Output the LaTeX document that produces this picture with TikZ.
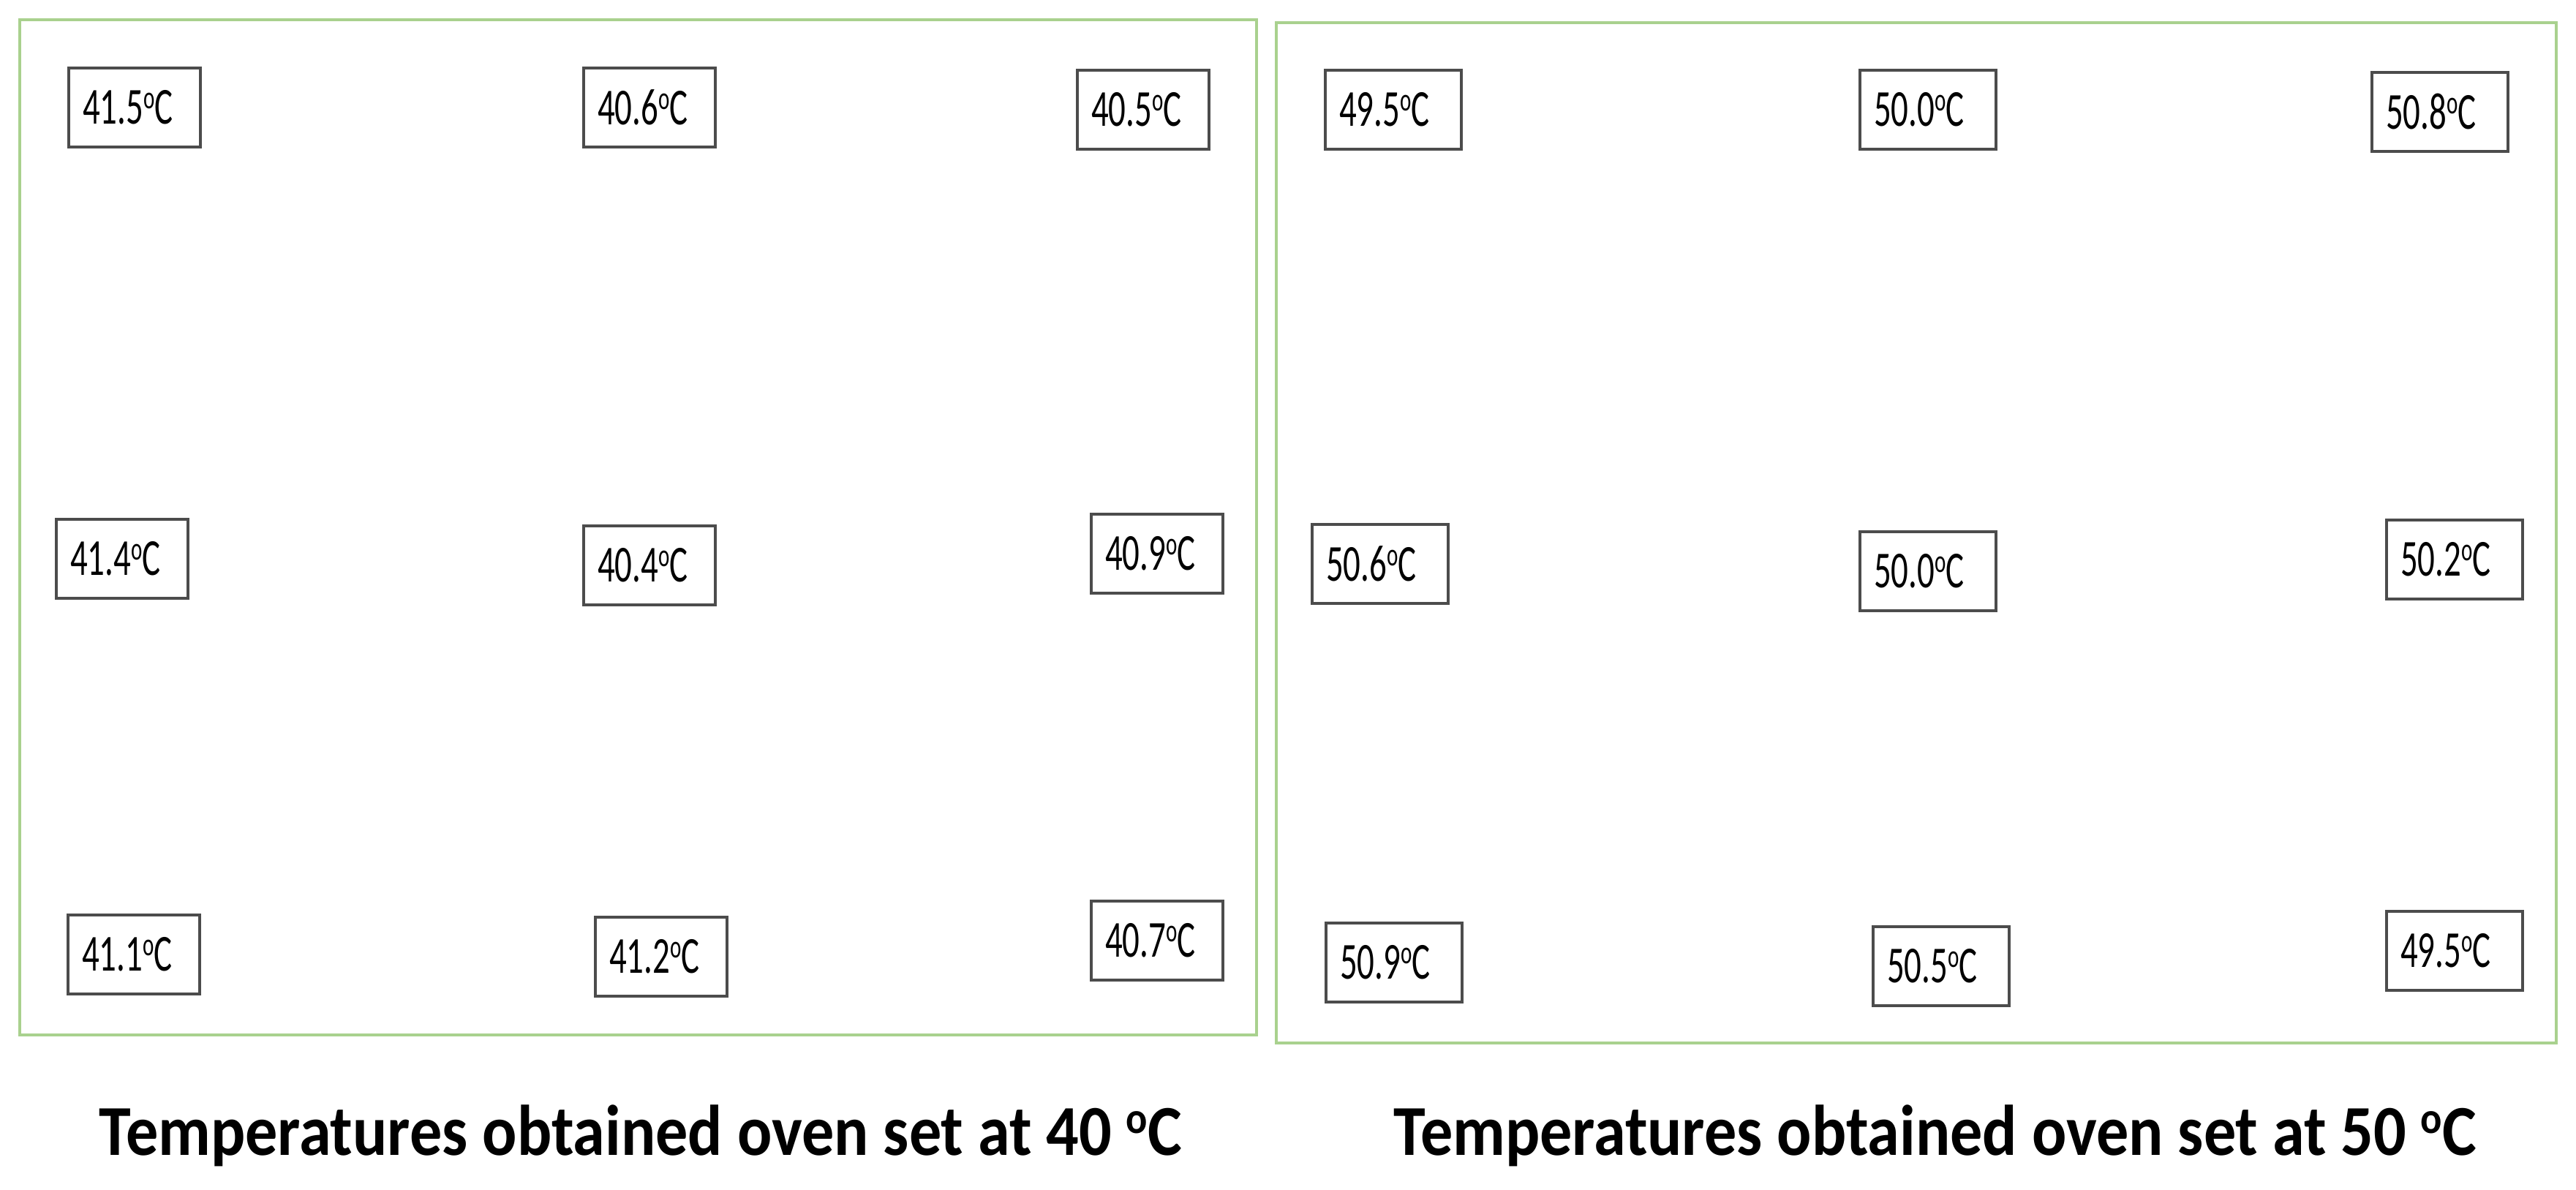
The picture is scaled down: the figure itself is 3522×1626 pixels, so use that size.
\documentclass[tikz,border=0pt]{standalone}
\usepackage{fontspec}
\setmainfont{Carlito}
\begin{document}
\begin{tikzpicture}[x=1pt,y=-1pt,
  frame/.style={draw={rgb,255:red,169;green,209;blue,142}, line width=4pt},
  tbox/.style={draw=black!70, line width=3.5pt, minimum height=108pt, inner xsep=19pt, inner ysep=0pt,
     text width=#1, align=left, font=\fontsize{71}{80}\selectfont},
  tbox/.default=142pt,
  captext/.style={font=\bfseries\fontsize{98}{110}\selectfont, inner sep=0pt}]
\useasboundingbox[fill=white] (0,0) rectangle (3522,1626);
\newcommand{\supo}{\raisebox{0.3em}{\scalebox{0.62}{o}}}
\newcommand{\tv}[1]{\scalebox{0.66}[1]{#1\supo C}}
% frames
\draw[frame] (27,27) rectangle (1718,1415);
\draw[frame] (1745,31) rectangle (3495,1426);
% left panel
\node[tbox] (a1) at (184,147) {\tv{41.5}};
\node[tbox] (a2) at (888,147) {\tv{40.6}};
\node[tbox] (a3) at (1563,150) {\tv{40.5}};
\node[tbox] (a4) at (167,764) {\tv{41.4}};
\node[tbox] (a5) at (888,773) {\tv{40.4}};
\node[tbox] (a6) at (1582,757) {\tv{40.9}};
\node[tbox] (a7) at (183,1305) {\tv{41.1}};
\node[tbox] (a8) at (904,1308) {\tv{41.2}};
\node[tbox] (a9) at (1582,1286) {\tv{40.7}};
% right panel
\node[tbox=148pt] (b1) at (1905,150) {\tv{49.5}};
\node[tbox=148pt] (b2) at (2636,150) {\tv{50.0}};
\node[tbox=148pt] (b3) at (3336,153) {\tv{50.8}};
\node[tbox=148pt] (b4) at (1887,771) {\tv{50.6}};
\node[tbox=148pt] (b5) at (2636,781) {\tv{50.0}};
\node[tbox=148pt] (b6) at (3356,765) {\tv{50.2}};
\node[tbox=148pt] (b7) at (1906,1316) {\tv{50.9}};
\node[tbox=148pt] (b8) at (2654,1321) {\tv{50.5}};
\node[tbox=148pt] (b9) at (3356,1300) {\tv{49.5}};
% captions
\node[captext, anchor=base] (c1) at (876,1579) {\scalebox{0.9}[1]{Temperatures obtained oven set at 40 \supo C}};
\node[captext, anchor=base] (c2) at (2646,1579) {\scalebox{0.9}[1]{Temperatures obtained oven set at 50 \supo C}};
\end{tikzpicture}
\end{document}
